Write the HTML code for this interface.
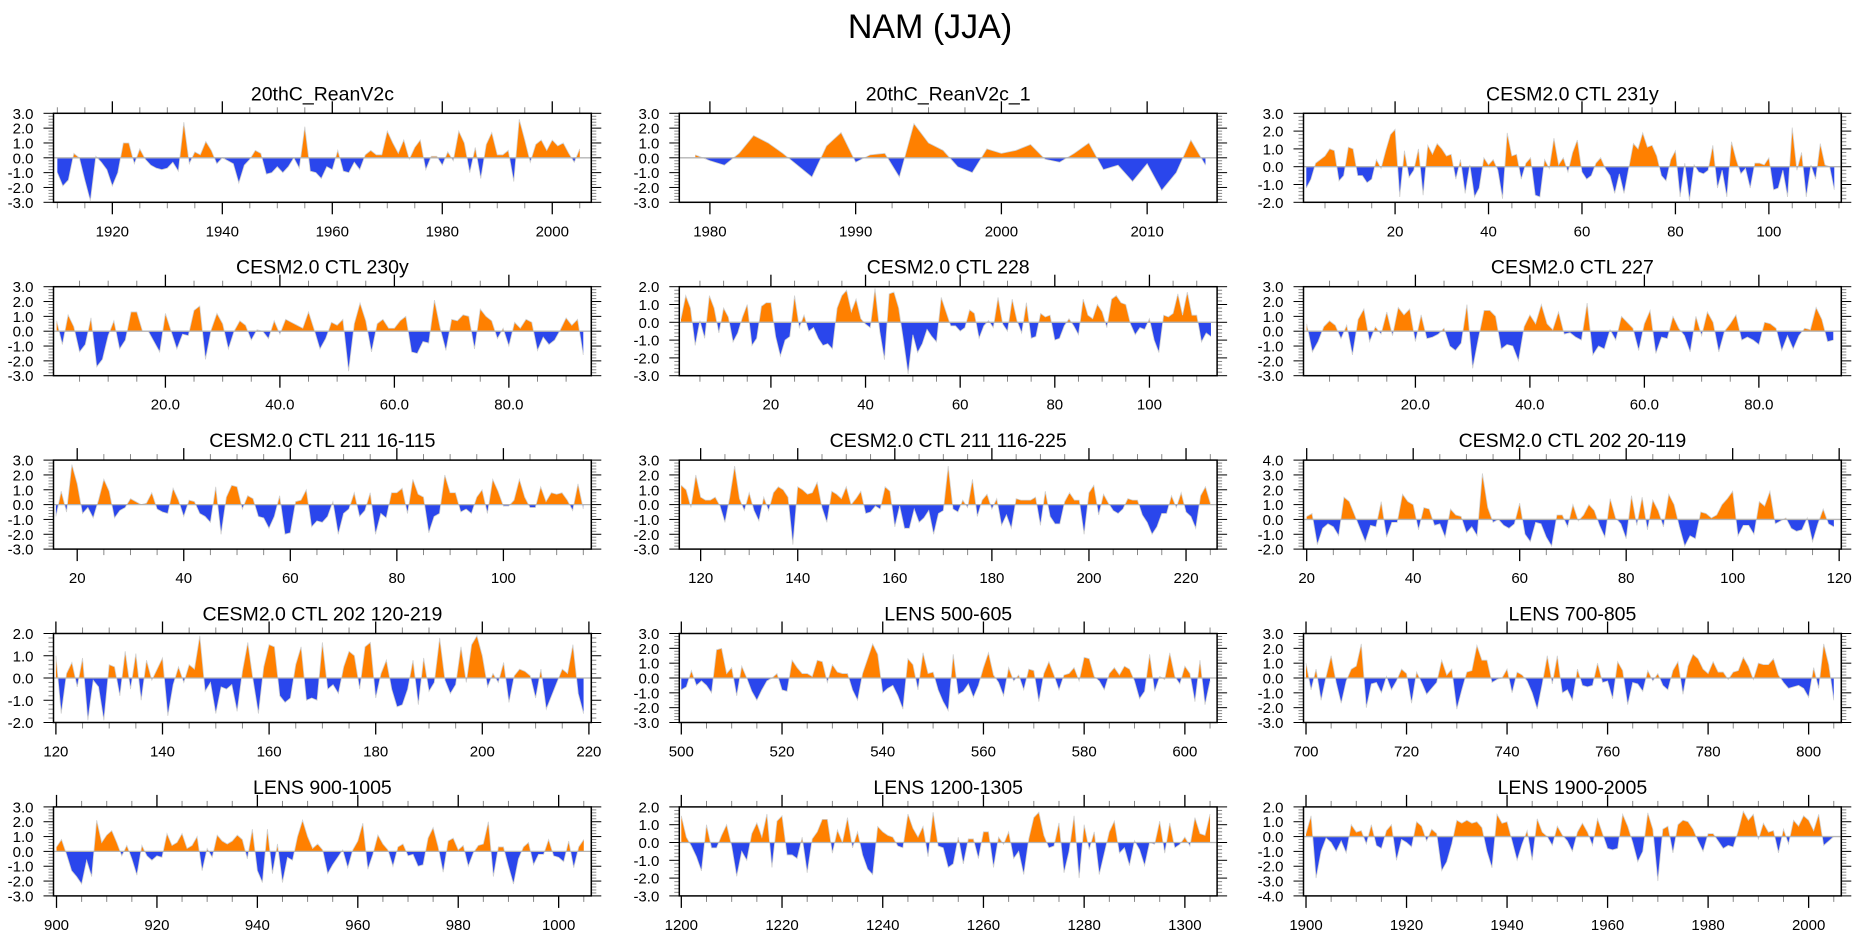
<!DOCTYPE html>
<html><head><meta charset="utf-8"><title>NAM (JJA)</title>
<style>
html,body{margin:0;padding:0;background:#fff;}
svg{display:block;font-family:"Liberation Sans",Arial,sans-serif;}
</style></head>
<body>
<svg id="chart" width="1861" height="936" viewBox="0 0 1861 936" xmlns="http://www.w3.org/2000/svg">
<text x="930" y="38" font-size="34" text-anchor="middle" fill="#000">NAM (JJA)</text>
</svg>
<script>
// ---- data (one value per year) ----
const titles = ["20thC_ReanV2c","20thC_ReanV2c_1","CESM2.0 CTL 231y","CESM2.0 CTL 230y","CESM2.0 CTL 228","CESM2.0 CTL 227","CESM2.0 CTL 211 16-115","CESM2.0 CTL 211 116-225","CESM2.0 CTL 202 20-119","CESM2.0 CTL 202 120-219","LENS 500-605","LENS 700-805","LENS 900-1005","LENS 1200-1305","LENS 1900-2005"];
const startYears = [1910,1979,1,1,1,1,16,116,20,120,500,700,900,1200,1900];
const xDomains = [[1909.3,2007.1],[1977.9,2014.8],[0.4,115.5],[0.45,94.4],[0.64,114.3],[0.45,94.4],[15.55,116.5],[115.6,226.4],[19.4,120.4],[119.55,220.45],[499.6,606.4],[699.5,806.5],[899.4,1006.5],[1199.6,1306.4],[1899.5,2006.5]];
const yDomains = [[-3,3],[-3,3],[-2,3],[-3,3],[-3,2],[-3,3],[-3,3],[-3,3],[-2,4],[-2,2],[-3,3],[-3,3],[-3,3],[-3,2],[-4,2]];
const xMajorSteps = [20,10,20,20,20,20,20,20,20,20,20,20,20,20,20];
const xLabelDecimals = [0,0,0,1,0,1,0,0,0,0,0,0,0,0,0];

const s0 = [-1.0,-1.9,-1.5,0.3,0.0,-1.5,-2.9,0.1,-0.3,-0.8,-1.9,-1.0,1.0,1.0,-0.4,0.6,-0.1,-0.5,-0.7,-0.8,-0.7,-0.3,-0.9,2.4,-0.4,0.4,0.2,1.1,0.5,-0.4,0.0,-0.2,-0.4,-1.7,-0.5,-0.1,0.5,0.3,-1.1,-1.0,-0.6,-1.0,-0.6,0.0,-0.7,2.1,-0.9,-1.0,-1.4,-0.6,-0.8,0.5,-0.9,-1.0,-0.3,-0.8,0.2,0.5,0.2,0.2,1.8,1.0,0.3,1.2,-0.1,0.7,1.2,-0.8,0.1,0.1,-0.5,0.4,-0.2,1.8,1.0,-1.0,0.7,-1.4,0.9,1.7,0.2,0.2,0.5,-1.6,2.6,1.2,-0.3,0.9,1.2,0.5,1.2,0.8,1.0,0.3,-0.3,0.6];
const s1 = [0.2,-0.2,-0.5,0.3,1.5,1.0,0.3,-0.5,-1.3,0.8,1.7,-0.3,0.2,0.3,-1.3,2.3,1.0,0.5,-0.6,-1.0,0.6,0.3,0.5,0.9,-0.1,-0.3,0.3,1.0,-0.8,-0.5,-1.6,-0.4,-2.2,-1.0,1.2,-0.5];
const s2 = [-1.2,-0.7,0.2,0.4,0.6,1.0,0.9,-0.8,-0.5,1.1,1.0,-0.5,-0.5,-0.9,-0.7,0.4,-0.1,0.9,1.8,2.1,-1.7,0.9,-0.6,-0.2,1.0,-1.6,1.2,0.7,1.3,1.0,0.6,0.7,-0.7,0.4,-1.5,0.1,-1.7,-1.2,0.5,0.1,0.4,-0.2,-1.8,1.9,0.6,0.7,-0.7,0.2,0.5,-1.6,-1.7,0.4,-0.1,1.6,0.1,0.5,-0.3,0.8,1.5,-0.3,-0.7,-0.5,0.2,0.5,-0.1,-0.5,-1.5,-0.4,-1.5,-0.1,1.3,1.0,1.9,1.1,1.2,0.6,-0.5,-0.8,0.4,0.9,-1.7,0.2,-1.9,0.1,-0.3,-0.4,-0.2,1.2,-1.2,-0.2,-1.7,1.4,0.4,-0.4,-0.1,-1.2,0.2,0.2,0.1,0.5,-1.3,-1.2,-0.2,-1.7,2.2,-0.2,0.8,-1.7,0.1,-0.7,1.3,0.1,0.0,-1.3];
const s3 = [0.7,-0.9,1.1,0.3,-1.4,-0.9,0.9,-2.4,-1.9,-0.3,0.7,-1.2,-0.6,1.3,1.3,0.0,0.0,-0.7,-1.4,1.2,0.0,-1.2,-0.2,-0.3,1.4,1.7,-1.9,0.1,1.2,0.5,-1.2,0.0,0.7,0.4,-0.6,0.1,0.0,-0.5,0.7,-0.2,0.8,0.6,0.4,0.2,1.3,0.1,-1.2,-0.5,0.6,0.4,0.8,-2.7,0.5,1.9,0.7,-1.4,0.5,0.8,0.2,0.2,0.7,1.0,-1.4,-1.5,-0.7,-0.8,2.1,0.2,-1.3,0.8,0.7,1.1,1.0,-1.2,1.5,1.0,0.7,-0.5,0.2,-1.0,0.6,0.2,0.8,0.6,-1.3,-0.4,-0.9,-0.6,0.1,0.9,0.4,0.8,-1.6];
const s4 = [0.2,1.5,0.8,-1.3,0.1,-0.9,1.5,0.8,-0.6,0.8,0.3,-1.1,-0.6,0.3,1.0,-1.3,-0.9,0.9,1.1,1.1,-0.8,-1.9,-1.0,-0.8,1.5,-0.3,0.4,-0.5,-0.3,-0.9,-1.3,-1.2,-1.5,0.8,1.5,1.8,0.6,1.3,0.2,-0.1,-0.3,1.9,-0.5,-2.1,1.6,1.7,0.8,-1.0,-2.9,-0.7,-1.7,-1.2,-0.4,-0.8,-1.1,1.4,0.6,-0.2,-0.2,-0.5,-0.3,0.7,0.5,-0.9,-0.2,0.1,-0.3,1.4,-0.1,-0.5,1.3,0.1,-0.6,1.1,-0.9,-0.8,0.5,0.3,0.4,-1.0,-0.9,-0.2,0.2,-0.2,-0.7,1.3,0.4,0.2,1.0,0.6,-0.3,1.3,1.5,1.1,1.0,-0.1,-0.7,-0.3,-0.4,0.2,-1.0,-1.7,0.4,0.3,0.5,1.6,0.4,1.7,0.4,0.4,-1.1,-0.6,-0.8];
const s5 = [0.5,-1.4,-0.7,0.3,0.7,0.4,-0.5,0.4,-1.6,0.8,1.5,-0.7,0.3,-0.2,1.3,-0.3,1.6,1.1,1.5,-0.7,1.1,-0.5,-0.4,-0.2,0.2,-1.0,-1.3,-0.8,1.8,-2.5,-0.5,1.4,1.4,1.0,-1.2,-0.9,-1.0,-2.0,0.3,1.1,0.5,1.8,0.5,0.1,1.3,-0.2,-0.1,-0.4,-0.6,1.9,-1.6,-1.0,-1.2,0.1,-0.6,1.0,0.6,0.2,-1.3,0.5,1.4,-1.5,-0.4,-0.5,1.0,0.2,-0.3,-1.4,1.0,-0.3,1.3,0.6,-1.4,0.0,0.5,1.1,-0.6,-0.4,-0.6,-0.9,0.6,0.5,0.2,-1.3,-0.3,-1.2,-0.3,0.2,0.1,1.6,0.8,-0.7,-0.6];
const s6 = [-0.8,0.9,-0.5,2.7,1.4,-0.6,-0.2,-0.9,0.3,1.7,0.9,-0.9,-0.4,-0.2,0.4,0.2,0.0,0.1,0.8,-0.3,-0.5,-0.6,1.1,0.3,-0.8,0.3,0.2,-0.6,-0.8,-1.2,1.2,-2.0,0.5,1.3,1.2,-0.3,0.6,0.4,-0.8,-0.9,-1.6,-0.8,0.6,-2.0,-1.9,0.2,0.3,1.0,-1.5,-1.1,-1.2,-0.8,0.2,-2.0,-0.6,-0.3,0.8,-0.8,-0.4,0.8,-2.0,-0.6,-0.9,0.8,0.8,1.1,-0.6,1.7,0.7,0.5,-1.9,-0.8,-0.6,2.0,0.8,0.8,-0.5,-0.3,-0.6,0.5,1.0,-0.6,1.7,0.9,-0.1,-0.1,0.3,1.7,0.5,-0.2,-0.2,1.2,0.2,0.8,0.7,0.8,0.3,-0.4,1.4,-0.3];
const s7 = [1.3,1.0,-0.2,2.0,0.5,0.3,0.3,0.5,-0.1,-1.2,0.5,2.6,0.4,-0.4,0.8,-0.4,-1.1,0.5,-0.4,0.8,1.2,1.0,0.5,-2.7,1.2,1.0,0.7,0.8,1.5,-0.2,-1.2,0.9,0.7,0.4,1.2,0.0,0.4,0.9,-0.6,-0.5,-0.1,-0.3,1.2,0.9,-1.5,-0.1,-1.6,-1.6,-0.3,-1.2,-0.9,-0.4,-2.0,-0.6,-0.4,2.6,-0.3,-0.5,0.3,-0.2,1.7,-0.8,0.3,0.7,-0.3,0.4,-1.4,-0.7,-1.6,0.4,0.3,0.3,0.3,0.5,-1.4,0.9,-0.8,-1.3,-1.3,0.2,0.8,0.3,0.3,-2.0,0.8,1.3,-0.7,0.7,0.1,-0.4,-0.6,-0.3,0.4,0.3,0.3,-0.7,-1.2,-2.0,-1.5,-0.6,-0.6,0.6,-0.2,0.8,-0.5,-0.8,-1.6,0.6,1.2,0.1];
const s8 = [0.2,0.4,-1.7,-0.6,-0.3,-0.5,-1.1,1.5,1.2,0.3,-0.6,-1.5,-0.4,-0.5,1.2,-1.2,-0.2,-0.2,1.7,1.2,1.0,-0.7,0.8,0.7,-0.4,-0.3,-1.2,0.7,0.3,0.2,-0.9,-0.5,-1.1,3.1,0.8,-0.2,0.0,-0.4,-0.6,-0.3,1.1,-1.0,-1.5,-0.2,-0.3,-1.2,-1.8,0.3,0.3,-0.5,1.0,-0.1,0.3,1.0,0.6,-0.4,-1.2,1.4,0.1,-0.3,-1.3,1.6,-0.4,1.5,-0.7,1.3,0.6,-0.5,1.7,1.0,-0.5,-1.8,-1.1,-1.3,0.5,0.4,0.1,0.3,1.0,1.4,1.9,-1.1,-0.4,-0.4,-1.0,1.2,0.9,1.9,-0.3,-0.1,0.1,-0.6,-0.8,-0.7,0.1,-1.5,-0.3,0.7,-0.3,-0.5];
const s9 = [1.0,-1.6,0.2,0.7,-0.4,0.9,-1.9,-0.1,-0.4,-1.9,0.6,0.5,-0.8,1.2,-0.5,1.1,-1.0,0.8,-0.1,0.4,0.9,-1.7,-0.3,0.5,-0.2,0.6,0.4,1.9,-0.6,-0.2,-1.6,-0.4,-0.5,-0.3,-1.5,0.3,1.6,-0.1,-1.6,0.5,1.5,1.4,-0.8,-1.1,-0.9,0.6,1.4,-1.0,-0.9,-1.0,1.6,-0.5,-0.3,-0.7,0.5,1.2,1.0,-0.5,1.4,1.6,-0.9,0.2,0.8,-0.5,-1.3,-1.2,-0.5,0.8,-1.2,0.9,-0.6,-0.2,1.8,-0.1,-0.7,-0.3,1.4,-0.2,1.5,1.9,1.0,-0.4,0.2,-0.2,0.7,-1.1,0.1,0.4,0.3,0.1,-0.9,0.4,-1.4,-0.8,-0.2,0.4,0.2,1.5,-0.7,-1.6];
const s10 = [-0.8,-0.6,0.5,-0.5,-0.2,-0.5,-1.0,1.9,2.0,0.3,0.7,-1.2,0.8,0.0,-0.9,-1.5,-0.8,-0.2,0.0,0.3,-0.8,-0.9,1.2,0.7,0.3,0.3,0.1,1.2,1.1,-0.3,0.9,0.4,0.3,0.3,-0.8,-1.5,0.3,1.3,2.3,1.6,-1.0,-0.7,-0.5,-1.2,-2.1,1.3,0.9,-0.8,1.7,0.3,0.4,-0.8,-1.6,-2.2,1.6,-1.1,-0.9,-0.4,-1.3,-0.5,0.7,1.7,0.2,-0.3,-1.2,0.7,-0.2,0.2,-0.8,0.6,0.5,-1.6,0.3,1.1,0.2,-0.8,0.2,0.3,0.7,-0.2,1.4,1.3,0.1,-0.2,-0.8,0.3,0.7,0.2,0.8,0.6,-0.2,-1.4,-0.9,1.6,-0.9,0.1,-0.1,1.7,0.1,-0.4,0.8,0.3,-1.6,1.2,-1.8,-0.2];
const s11 = [1.0,-0.8,0.6,-1.5,0.1,1.5,-0.3,-1.7,-0.2,0.6,0.8,2.3,-2.0,-0.4,-0.3,-1.0,0.1,-0.8,-0.2,0.6,0.3,-1.7,0.4,-0.3,-1.1,-0.7,-0.3,1.2,0.2,0.6,-2.1,-0.8,0.4,0.5,2.2,1.2,1.2,-0.3,-0.1,0.0,0.6,-1.0,0.4,0.2,-0.2,-1.0,-2.1,-0.4,1.5,-0.4,1.5,-1.0,-0.8,-1.5,0.6,-0.5,-0.6,-0.5,1.0,-0.3,-0.2,-1.4,1.1,0.5,-1.8,-0.3,-0.4,-0.9,0.5,-0.2,0.3,-0.5,-0.8,0.5,1.1,-1.1,0.8,1.6,1.3,0.6,0.3,1.1,0.4,0.4,-0.1,0.4,0.5,1.4,0.8,-0.1,1.0,0.9,0.9,1.3,0.2,-0.3,-0.7,-0.6,-0.5,-0.7,-1.3,0.7,-0.7,2.3,0.9,-1.5];
const s12 = [0.3,0.8,-0.2,-1.3,-1.7,-2.2,-0.6,-1.7,2.1,0.6,1.1,1.4,0.6,-0.3,0.4,-0.5,-1.6,0.4,-0.3,-0.6,-0.3,-0.4,1.2,0.4,0.6,1.2,0.2,0.4,1.0,-1.3,0.2,-0.4,1.1,0.7,0.5,0.7,1.1,0.8,-0.5,1.5,-1.3,-2.1,1.5,-1.5,0.5,-2.1,-0.4,-0.6,1.0,2.1,1.0,0.2,0.5,0.1,-1.5,-0.9,-0.4,0.1,-1.1,0.1,0.7,1.9,-1.2,-0.2,1.1,0.5,0.1,-1.0,0.3,0.5,-0.3,-0.2,-1.0,-0.9,0.9,1.6,0.3,-1.4,0.7,0.9,0.1,0.4,-1.0,-0.1,0.4,0.5,2.0,-1.7,0.3,0.3,-1.0,-2.2,-0.5,0.3,0.6,-0.9,-0.2,-0.2,0.8,-0.3,-0.4,-0.7,0.7,-1.1,0.3,0.8];
const s13 = [1.5,0.3,-0.2,-0.8,-1.6,1.0,-0.3,-0.3,0.4,1.0,-0.2,-1.9,-0.5,-1.0,0.5,1.1,0.3,1.6,-1.4,1.2,1.5,-0.7,-0.7,-0.9,0.3,-1.7,0.2,0.6,1.3,1.3,-0.6,0.7,0.0,1.4,-0.3,0.6,-0.7,-1.5,-1.8,0.9,0.6,0.4,0.3,-0.2,-0.3,1.6,0.8,0.3,0.9,-0.8,1.7,-0.2,-0.3,-1.4,-1.2,0.3,-1.2,0.2,0.2,-0.9,0.6,0.6,-1.4,0.3,-0.1,0.6,-0.9,-0.5,-1.8,0.2,1.4,1.7,0.4,-0.3,-0.2,1.1,-1.7,-0.5,1.5,-2.0,1.0,-0.4,0.6,-1.8,-0.6,0.6,1.2,-0.6,-0.3,-1.3,0.1,-0.4,-1.3,0.0,-0.1,1.2,-0.6,1.1,-0.3,-0.1,0.3,-0.2,1.4,0.5,0.4,1.6];
const s14 = [0.2,1.4,-2.8,-1.0,-0.1,-0.4,-1.0,-0.3,-1.1,0.8,0.3,0.4,-0.5,0.8,-0.6,-0.8,0.4,0.8,-1.6,-0.2,-0.4,-0.7,1.0,0.7,-0.3,0.5,0.2,-2.3,-1.7,-0.5,1.1,0.9,1.1,0.9,1.0,0.6,-1.0,-2.1,1.5,0.9,1.0,-0.3,-1.6,-0.5,0.4,-1.6,1.2,0.3,0.0,-0.6,0.7,0.1,-0.3,-1.0,0.3,0.9,0.3,-0.6,1.2,0.2,-0.8,-0.9,-0.8,1.5,0.7,-0.4,-1.7,-1.0,1.6,0.5,-3.0,0.5,0.7,-1.1,0.8,1.1,1.0,0.5,-0.3,-1.0,0.2,0.2,-0.3,-0.8,-0.6,-0.7,0.4,1.7,1.1,1.5,-0.2,0.9,0.3,0.4,-1.1,0.5,-0.5,1.1,0.7,1.4,1.1,0.4,1.5,-0.6,-0.3,0.0];
const seriesValues = [s0,s1,s2,s3,s4,s5,s6,s7,s8,s9,s10,s11,s12,s13,s14];

// ---- layout ----
const colLeft = [53.5, 679.3, 1303.5];
const colW = 537.8;
const rowTop0 = 113.3, rowStep = 173.4, plotH = 89;
const NS = "http://www.w3.org/2000/svg";
const svg = document.getElementById("chart");
function mk(tag, attrs, parent){
  const e = document.createElementNS(NS, tag);
  for (const k in attrs) e.setAttribute(k, attrs[k]);
  (parent||svg).appendChild(e);
  return e;
}
function fmt(v,d){ return v.toFixed(d); }

for (let p = 0; p < 15; p++) {
  const row = Math.floor(p/3), col = p%3;
  const L = colLeft[col], R = L + colW, T = rowTop0 + row*rowStep, B = T + plotH;
  const [x0,x1] = xDomains[p], [y0,y1] = yDomains[p];
  const xs = v => L + (v - x0)/(x1 - x0)*(R - L);
  const ys = v => B - (v - y0)/(y1 - y0)*(B - T);
  const g = mk("g", {});
  
  

  const t = mk("text", {x:(L+R)/2, y:T-13, "font-size":19.5, "text-anchor":"middle", fill:"#000"}, g);
  t.textContent = titles[p];
  
  

  const vals = seriesValues[p], st = startYears[p];
  const pts = [];
  for (let i = 0; i < vals.length; i++) {
    const yr = st + i, v = vals[i];
    if (i > 0) {
      const pv = vals[i-1];
      if ((pv > 0 && v < 0) || (pv < 0 && v > 0)) {
        const f = pv/(pv - v);
        pts.push([yr - 1 + f, 0]);
      }
    }
    pts.push([yr, v]);
  }
  const first = pts[0][0], last = pts[pts.length-1][0];
  let posD = "M" + xs(first) + "," + ys(0), negD = posD;
  pts.forEach(q => {
    posD += " L" + xs(q[0]).toFixed(2) + "," + ys(Math.max(q[1],0)).toFixed(2);
    negD += " L" + xs(q[0]).toFixed(2) + "," + ys(Math.min(q[1],0)).toFixed(2);
  });
  posD += " L" + xs(last) + "," + ys(0) + " Z";
  negD += " L" + xs(last) + "," + ys(0) + " Z";
  const pa = mk("path", {d:posD, fill:"#ff8000", stroke:"none"}, g);
  
  
  const na = mk("path", {d:negD, fill:"#2a46ec", stroke:"none"}, g);
  
  
  let lineD = "";
  pts.forEach((q,i) => { lineD += (i?" L":"M") + xs(q[0]).toFixed(2) + "," + ys(q[1]).toFixed(2); });
  const ln = mk("path", {d:lineD, fill:"none", stroke:"#d0d0d0", "stroke-width":0.8}, g);
  
  
  const zl = mk("line", {x1:L, x2:R, y1:ys(0), y2:ys(0), stroke:"#b4b4b4", "stroke-width":1.3}, g);
  
  

  const ticks = mk("g", {stroke:"#000", "stroke-width":1}, g);
  
  
  for (let k = Math.round(y0*5); k <= Math.round(y1*5); k++) {
    const v = k/5, y = ys(v), major = (k % 5 === 0);
    const len = major ? 10 : 5;
    mk("line", {x1:L-len, x2:L, y1:y, y2:y, stroke: major?"#000":"#888"}, ticks);
    mk("line", {x1:R, x2:R+len, y1:y, y2:y, stroke: major?"#000":"#888"}, ticks);
    if (major) {
      const yl = mk("text", {x:L-20, y:y+5.5, "font-size":15, "text-anchor":"end", fill:"#000", stroke:"none"}, g);
      yl.textContent = fmt(v,1);
      
      
    }
  }
  const step = xMajorSteps[p], minor = step/4;
  for (let v = Math.ceil(x0/minor)*minor; v <= x1 + 1e-9; v += minor) {
    const x = xs(v), major = Math.abs(v/step - Math.round(v/step)) < 1e-6;
    const len = major ? 12 : 6;
    mk("line", {x1:x, x2:x, y1:B, y2:B+len, stroke: major?"#000":"#888", "stroke-width": major?1.3:1}, ticks);
    mk("line", {x1:x, x2:x, y1:T-len, y2:T, stroke: major?"#000":"#888", "stroke-width": major?1.3:1}, ticks);
    if (major) {
      const xl = mk("text", {x:x, y:B+34, "font-size":15, "text-anchor":"middle", fill:"#000", stroke:"none"}, g);
      xl.textContent = fmt(Math.round(v*10)/10, xLabelDecimals[p]);
      
      
    }
  }
  const fr = mk("rect", {x:L, y:T, width:R-L, height:B-T, fill:"none", stroke:"#000", "stroke-width":1.5}, g);
  
  
}
</script>
</body></html>
